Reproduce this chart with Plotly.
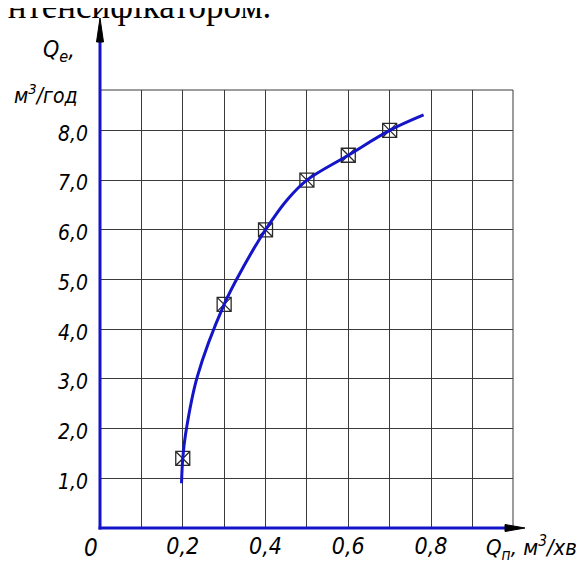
import plotly.graph_objects as go

# Measured points (markers)
qp_points = [0.2, 0.3, 0.4, 0.5, 0.6, 0.7]
qe_points = [1.4, 4.5, 6.0, 7.0, 7.5, 8.0]

# Fitted curve
qp_curve = [0.197, 0.200, 0.207, 0.235, 0.300, 0.347, 0.400, 0.452, 0.500, 0.600, 0.700, 0.782]
qe_curve = [0.90, 1.40, 1.90, 3.04, 4.50, 5.26, 6.00, 6.60, 7.00, 7.50, 8.00, 8.31]

x_tickvals = [0.2, 0.4, 0.6, 0.8]
x_ticktext = ["0,2", "0,4", "0,6", "0,8"]
y_tickvals = [1, 2, 3, 4, 5, 6, 7, 8]
y_ticktext = ["1,0", "2,0", "3,0", "4,0", "5,0", "6,0", "7,0", "8,0"]

# page has an 8px body margin -> figure is 8px smaller and offset
OFF = 8
W, H = 584 - OFF, 564 - OFF
L, R, T, B = 100 - OFF, 71, 90 - OFF, 36
PW, PH = W - L - R, H - T - B
PX_PER_Y = 49.7
YMAX = PH / PX_PER_Y

def px(xp):  # reference pixel -> paper
    return (xp - 100) / PW

def py(yp):
    return (528 - yp) / PH

BLUE = "#1414c8"
GOST = "DejaVu Sans Condensed, Liberation Sans Narrow, sans-serif"

fig = go.Figure()
fig.add_trace(go.Scatter(
    x=qp_points, y=qe_points, mode="markers",
    marker=dict(symbol="square-x-open", size=14, color="#2a2a2a", line=dict(width=1.3)),
    showlegend=False, hoverinfo="skip", cliponaxis=False))
fig.add_trace(go.Scatter(
    x=qp_curve, y=qe_curve, mode="lines",
    line=dict(color=BLUE, width=3, shape="spline", smoothing=1.0),
    showlegend=False, hoverinfo="skip", cliponaxis=False))

shapes = [
    dict(type="line", xref="paper", yref="paper", x0=0, x1=1, y0=1, y1=1,
         line=dict(color="#3a3a3a", width=1)),
    dict(type="line", xref="paper", yref="paper", x0=1, x1=1, y0=0, y1=1,
         line=dict(color="#3a3a3a", width=1)),
    dict(type="line", xref="paper", yref="paper", x0=0, x1=0, y0=py(529.5), y1=py(42),
         line=dict(color=BLUE, width=3)),
    dict(type="line", xref="paper", yref="paper", x0=px(98.5), x1=px(506), y0=0, y1=0,
         line=dict(color=BLUE, width=3)),
    dict(type="path", xref="paper", yref="paper",
         path=f"M {px(100)},{py(18)} L {px(103.5)},{py(42)} L {px(96.5)},{py(42)} Z",
         fillcolor="black", line=dict(color="black", width=1)),
    dict(type="path", xref="paper", yref="paper",
         path=f"M {px(525)},{py(528)} L {px(505)},{py(524.5)} L {px(505)},{py(531.5)} Z",
         fillcolor="black", line=dict(color="black", width=1)),
]

annotations = [
    dict(text="інтенсифікатором.", xref="paper", yref="paper", x=px(-4), y=py(17),
         xanchor="left", yanchor="bottom", showarrow=False, yshift=-11,
         font=dict(family="Liberation Serif, Times New Roman, serif", size=35, color="black")),
    dict(text="Q<sub>e</sub>,", xref="paper", yref="paper", x=px(59), y=py(51),
         xanchor="center", yanchor="middle", showarrow=False,
         font=dict(family=GOST, size=23, color="black", style="italic")),
    dict(text="м<sup>3</sup>/год", xref="paper", yref="paper", x=px(46), y=py(94),
         xanchor="center", yanchor="middle", showarrow=False,
         font=dict(family=GOST, size=21, color="black", style="italic")),
    dict(text="0", xref="paper", yref="paper", x=px(91), y=py(548),
         xanchor="center", yanchor="middle", showarrow=False,
         font=dict(family=GOST, size=24, color="black", style="italic")),
    dict(text="Q<sub>п</sub>, м<sup>3</sup>/хв", xref="paper", yref="paper", x=px(531), y=py(548),
         xanchor="center", yanchor="middle", showarrow=False,
         font=dict(family=GOST, size=22, color="black", style="italic")),
]

fig.update_layout(
    width=W, height=H,
    margin=dict(l=L, r=R, t=T, b=B),
    paper_bgcolor="white", plot_bgcolor="white",
    shapes=shapes, annotations=annotations,
    xaxis=dict(range=[0, PW / 413.8], showgrid=True,
               gridcolor="#3a3a3a", gridwidth=1, zeroline=False, showline=False,
               tickmode="array", tickvals=x_tickvals, ticktext=x_ticktext,
               ticks="", automargin=False, ticklabelstandoff=2,
               tickfont=dict(family=GOST, size=23, color="black", style="italic"),
               minor=dict(dtick=0.1, tick0=0, showgrid=True, gridcolor="#3a3a3a", gridwidth=1)),
    yaxis=dict(range=[0, YMAX], showgrid=True, gridcolor="#3a3a3a", gridwidth=1,
               zeroline=False, showline=False,
               tickmode="array", tickvals=y_tickvals, ticktext=y_ticktext,
               ticks="", automargin=False, ticklabelstandoff=11, ticklabelshift=3,
               tickfont=dict(family=GOST, size=21, color="black", style="italic")),
)

fig.write_html("out.html")
